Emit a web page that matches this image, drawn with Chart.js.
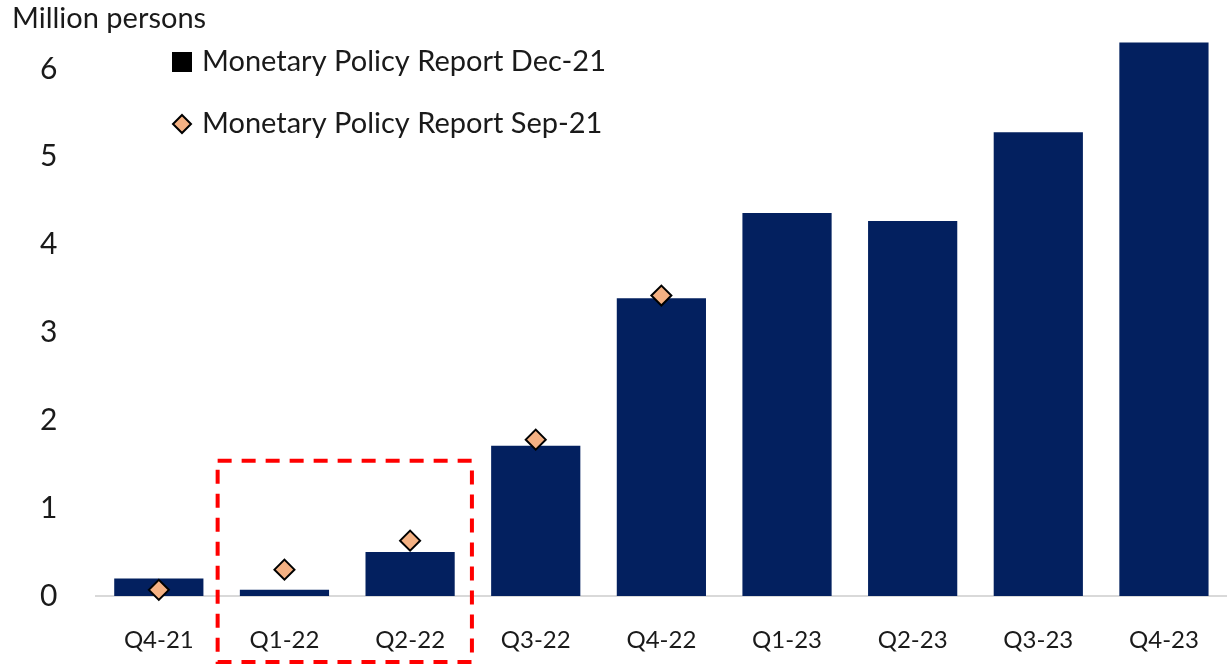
<!DOCTYPE html>
<html>
<head>
<meta charset="utf-8">
<script src="https://cdn.jsdelivr.net/npm/chart.js@4.4.1/dist/chart.umd.min.js"></script>
<style>
  html, body { margin: 0; padding: 0; background: #fff; }
  #wrap { width: 1229px; height: 671px; }
</style>
</head>
<body>
<div id="wrap"><canvas id="chart"></canvas></div>
<script>
var quarters = ["Q4-21", "Q1-22", "Q2-22", "Q3-22", "Q4-22", "Q1-23", "Q2-23", "Q3-23", "Q4-23"];
var reportDec21 = [0.20, 0.07, 0.50, 1.71, 3.39, 4.36, 4.27, 5.28, 6.30];
var reportSep21 = [0.07, 0.30, 0.63, 1.78, 3.42, null, null, null, null];
var yTicks = [0, 1, 2, 3, 4, 5, 6];

var fontFamily = "Lato, 'Open Sans', sans-serif";
var navy = "#03205F";
var peach = "#F4B183";

// dashed box around Q1-22 .. Q2-22
var boxPlugin = {
    id: "box",
    afterDatasetsDraw: function (chart) {
        var x = chart.scales.x, y = chart.scales.y, ctx = chart.ctx;
        var half = (x.getPixelForValue(1) - x.getPixelForValue(0)) / 2;
        var left = x.getPixelForValue(1) - half - 4;
        var right = x.getPixelForValue(2) + half - 1;
        var top = y.getPixelForValue(1.54);
        var bottom = chart.height - 9;
        ctx.save();
        ctx.strokeStyle = "#FF0000";
        ctx.lineWidth = 4;
        ctx.setLineDash([14, 10]);
        ctx.strokeRect(left, top, right - left, bottom - top);
        ctx.restore();
    }
};

// unit title + legend drawn on the canvas
var textPlugin = {
    id: "texts",
    afterDraw: function (chart) {
        var ctx = chart.ctx;
        ctx.save();
        ctx.fillStyle = "#1a1a1a";
        ctx.font = "29px " + fontFamily;
        ctx.textBaseline = "middle";
        ctx.fillText("Million persons", 12, 19);

        var ds = chart.data.datasets;
        ctx.font = "29px " + fontFamily;
        // bar series
        ctx.fillStyle = "#000";
        ctx.fillRect(172, 52, 20, 20);
        ctx.fillStyle = "#1a1a1a";
        ctx.fillText(ds[0].label, 202, 62);
        // diamond series
        ctx.beginPath();
        ctx.moveTo(182, 115);
        ctx.lineTo(191, 124);
        ctx.lineTo(182, 133);
        ctx.lineTo(173, 124);
        ctx.closePath();
        ctx.fillStyle = peach;
        ctx.fill();
        ctx.lineWidth = 2;
        ctx.strokeStyle = "#000";
        ctx.stroke();
        ctx.fillStyle = "#1a1a1a";
        ctx.fillText(ds[1].label, 202, 124);
        ctx.restore();
    }
};

new Chart(document.getElementById("chart"), {
    type: "bar",
    data: {
        labels: quarters,
        datasets: [
            {
                label: "Monetary Policy Report Dec-21",
                data: reportDec21,
                backgroundColor: navy,
                categoryPercentage: 1.0,
                barPercentage: 0.71,
                order: 1
            },
            {
                type: "line",
                label: "Monetary Policy Report Sep-21",
                data: reportSep21,
                showLine: false,
                pointStyle: "rectRot",
                pointRadius: 10,
                pointBackgroundColor: peach,
                pointBorderColor: "#000",
                pointBorderWidth: 2,
                clip: false,
                order: 0
            }
        ]
    },
    options: {
        responsive: true,
        maintainAspectRatio: false,
        animation: false,
        layout: { autoPadding: false, padding: { top: 25, right: 2, left: 40, bottom: 0 } },
        plugins: {
            legend: { display: false },
            tooltip: { enabled: false }
        },
        scales: {
            x: {
                grid: { display: false, drawTicks: false },
                border: { display: true, color: "#D9D9D9", width: 2 },
                ticks: {
                    color: "#1a1a1a",
                    padding: 30,
                    font: { family: fontFamily, size: 24 }
                },
                afterFit: function (axis) { axis.height = 75; }
            },
            y: {
                min: 0,
                max: 6.5,
                grid: { display: false, drawTicks: false },
                border: { display: false },
                afterBuildTicks: function (axis) {
                    axis.ticks = yTicks.map(function (v) { return { value: v }; });
                },
                ticks: {
                    color: "#1a1a1a",
                    padding: 0,
                    crossAlign: "far",
                    font: { family: fontFamily, size: 30 }
                },
                afterFit: function (axis) { axis.width = 56; }
            }
        }
    },
    plugins: [boxPlugin, textPlugin]
});
</script>
</body>
</html>
